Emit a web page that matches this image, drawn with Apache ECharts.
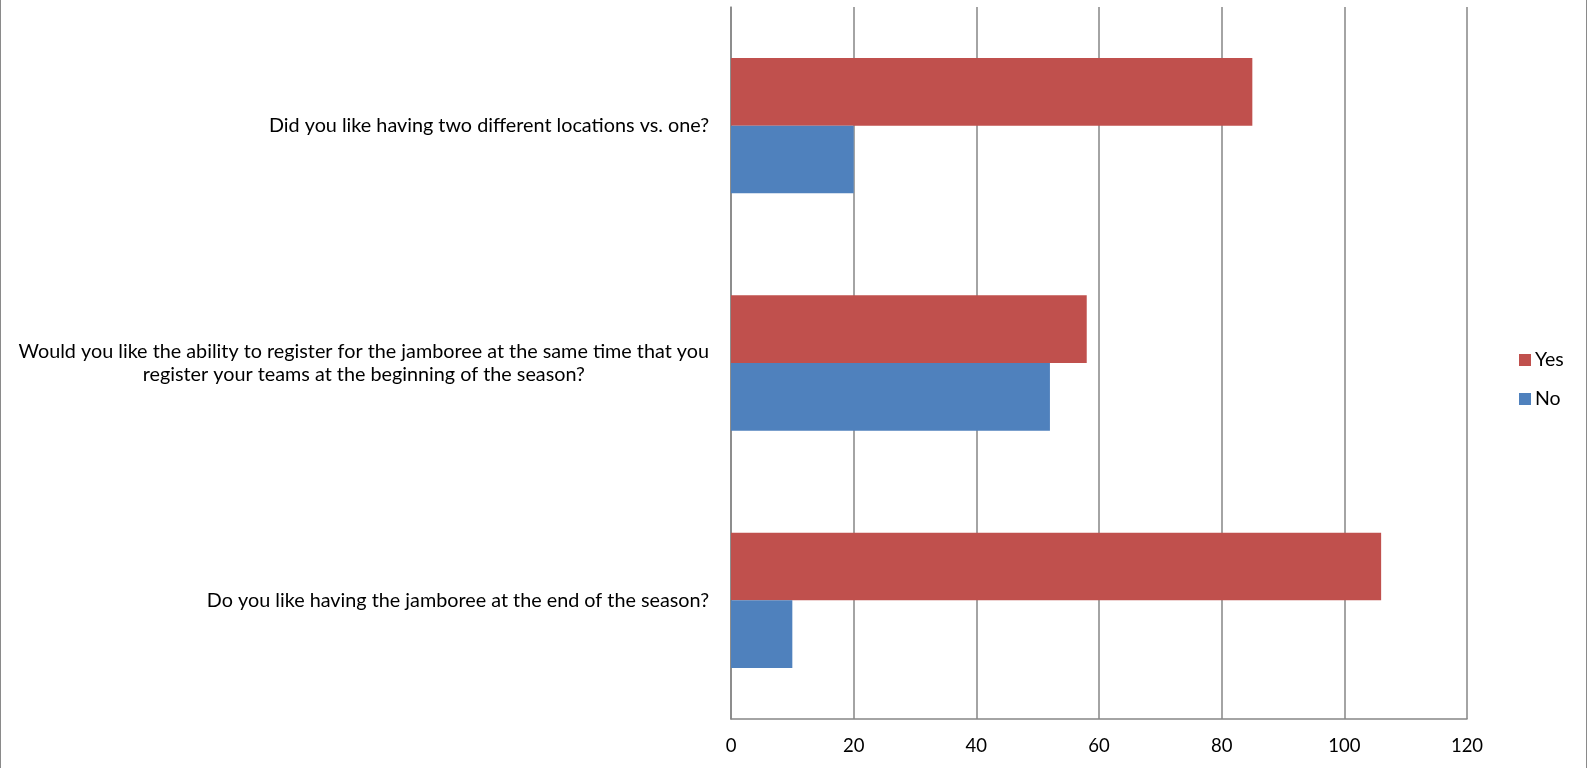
<!DOCTYPE html>
<html>
<head>
<meta charset="utf-8">
<script src="https://cdn.jsdelivr.net/npm/echarts@6/dist/echarts.min.js"></script>
<style>
html,body{margin:0;padding:0;background:#fff;}
#chart{width:1588px;height:768px;}
</style>
</head>
<body>
<div id="chart"></div>
<script>
// Categories listed bottom to top
const categories = [
  "Do you like having the jamboree at the end of the season?",
  "Would you like the ability to register for the jamboree at the same time that you\nregister your teams at the beginning of the season?",
  "Did you like having two different locations vs. one?"
];
const seriesNames = ["Yes", "No"];
const yesValues = [106, 58, 85];
const noValues = [10, 52, 20];
const xTicks = { min: 0, max: 120, interval: 20 };

const chart = echarts.init(document.getElementById('chart'));
const FONT = 'Lato';
const gridColor = '#868686';

chart.setOption({
  animation: false,
  textStyle: { fontFamily: FONT },
  graphic: [{
    type: 'rect',
    shape: { x: 0.5, y: -5, width: 1586, height: 780 },
    style: { fill: 'none', stroke: '#8a8a8a', lineWidth: 1 },
    silent: true
  }],
  legend: {
    data: seriesNames,
    orient: 'vertical',
    left: 1514,
    top: 345,
    itemWidth: 12,
    itemHeight: 12,
    itemGap: 19,
    icon: 'rect',
    textStyle: { fontFamily: FONT, fontSize: 19.5, color: '#000', padding: [0, 0, 0, -1] }
  },
  grid: { left: 731, right: 121, top: 7, bottom: 49, containLabel: false },
  xAxis: {
    type: 'value',
    min: xTicks.min, max: xTicks.max, interval: xTicks.interval,
    axisLine: { show: true, lineStyle: { color: gridColor, width: 1.5 } },
    axisTick: { show: false },
    splitLine: { show: true, lineStyle: { color: gridColor, width: 1.5 } },
    axisLabel: { color: '#000', fontSize: 18.5, fontFamily: FONT, margin: 18 }
  },
  yAxis: {
    type: 'category',
    data: categories,
    axisLine: { show: true, lineStyle: { color: gridColor, width: 1.5 } },
    axisTick: { show: false },
    axisLabel: {
      color: '#000', fontSize: 19.8, fontFamily: FONT, margin: 22,
      lineHeight: 24,
      formatter: function (v) {
        return v.split('\n').map(function (l) { return '{c|' + l + '}'; }).join('\n');
      },
      rich: { c: { align: 'center', fontSize: 19.8, fontFamily: FONT, color: '#000', lineHeight: 23.5 } }
    }
  },
  series: [
    {
      name: 'Yes', type: 'bar', data: yesValues,
      itemStyle: { color: '#C0504D' },
      barGap: '0%', barCategoryGap: '43%'
    },
    {
      name: 'No', type: 'bar', data: noValues,
      itemStyle: { color: '#4F81BD' },
      barGap: '0%', barCategoryGap: '43%'
    }
  ]
});
</script>
</body>
</html>
